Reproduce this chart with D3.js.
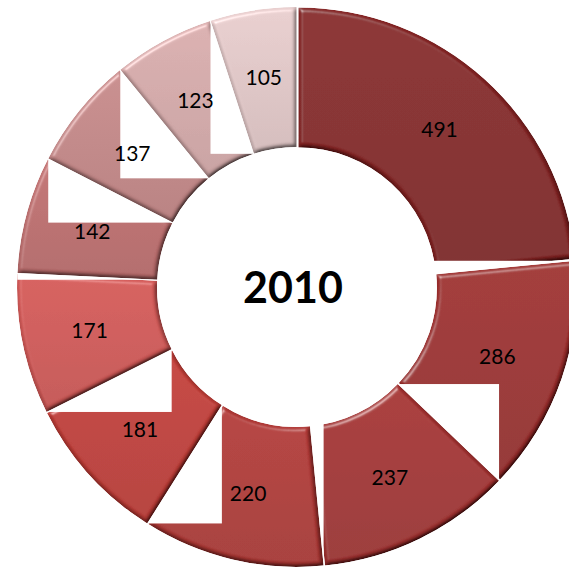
<!DOCTYPE html>
<html>
<head>
<meta charset="utf-8">
<script src="https://cdn.jsdelivr.net/npm/d3@7"></script>
<style>
  html, body { margin: 0; padding: 0; background: #fff; }
  svg { display: block; }
</style>
</head>
<body>
<svg id="chart" width="569" height="574"></svg>
<script>
// ---- data ----
const categories = ["A", "B", "C", "D", "E", "F", "G", "H", "I", "J"];
const values = [491, 286, 237, 220, 181, 171, 142, 137, 123, 105];
const centerLabel = "2010";
const palette = ["#832424", "#9a2e2d", "#a13231", "#ad3936", "#bd3d38", "#cd5856", "#ba6d6d", "#c08686", "#d1a8a8", "#dec5c5"];

// ---- layout ----
const W = 569, H = 574;
const cx = 297, cy = 287;
const outerR = 278, innerR = 138;
const explode = 2;

const svg = d3.select("#chart");
const defs = svg.append("defs");

// bevel filter
const f = defs.append("filter").attr("id", "bevel")
  .attr("x", "-5%").attr("y", "-5%").attr("width", "110%").attr("height", "110%");
f.append("feGaussianBlur").attr("in", "SourceAlpha").attr("stdDeviation", 2.2).attr("result", "blur");
const spec = f.append("feSpecularLighting").attr("in", "blur")
  .attr("surfaceScale", 4).attr("specularConstant", 0.9).attr("specularExponent", 22)
  .attr("lighting-color", "#ffffff").attr("result", "spec");
spec.append("feDistantLight").attr("azimuth", 235).attr("elevation", 32);
f.append("feComposite").attr("in", "spec").attr("in2", "SourceAlpha").attr("operator", "in").attr("result", "specOut");
const diff = f.append("feDiffuseLighting").attr("in", "blur")
  .attr("surfaceScale", 4).attr("diffuseConstant", 1.15)
  .attr("lighting-color", "#ffffff").attr("result", "diff");
diff.append("feDistantLight").attr("azimuth", 235).attr("elevation", 60);
f.append("feComposite").attr("in", "SourceGraphic").attr("in2", "diff")
  .attr("operator", "arithmetic").attr("k1", 1).attr("k2", 0).attr("k3", 0).attr("k4", 0).attr("result", "lit");
f.append("feComposite").attr("in", "lit").attr("in2", "specOut")
  .attr("operator", "arithmetic").attr("k1", 0).attr("k2", 1).attr("k3", 0.4).attr("k4", 0).attr("result", "sum");
f.append("feComposite").attr("in", "sum").attr("in2", "SourceAlpha").attr("operator", "in");

// gradients
palette.forEach((c, i) => {
  const g = defs.append("linearGradient").attr("id", "grad" + i)
    .attr("x1", 0).attr("y1", 0).attr("x2", 0).attr("y2", 1);
  g.append("stop").attr("offset", "0%").attr("stop-color", d3.color(c).brighter(0.12));
  g.append("stop").attr("offset", "100%").attr("stop-color", d3.color(c).darker(0.14));
});

const pie = d3.pie().sort(null).value(d => d);
const arcs = pie(values);
const arc = d3.arc().innerRadius(innerR).outerRadius(outerR);
const labelArc = d3.arc().innerRadius(212).outerRadius(212);

const root = svg.append("g").attr("transform", `translate(${cx},${cy})`);

arcs.forEach((a, i) => {
  const mid = (a.startAngle + a.endAngle) / 2;
  const dx = Math.sin(mid) * explode, dy = -Math.cos(mid) * explode;
  const g = root.append("g").attr("transform", `translate(${dx},${dy})`);
  // white background box of the slice (as in the original rendering)
  const p = g.append("path").attr("d", arc(a));
  const bb = p.node().getBBox();
  g.insert("rect", "path")
    .attr("x", bb.x).attr("y", bb.y)
    .attr("width", bb.width).attr("height", bb.height)
    .attr("fill", "#ffffff");
  p.attr("fill", `url(#grad${i})`).attr("filter", "url(#bevel)");
});

// value labels
root.selectAll("text.val")
  .data(arcs)
  .join("text")
  .attr("class", "val")
  .attr("transform", d => `translate(${labelArc.centroid(d)})`)
  .attr("text-anchor", "middle")
  .attr("dy", "0.35em")
  .style("font-family", "Lato, 'Open Sans', sans-serif")
  .style("font-size", "21px")
  .style("fill", "#000")
  .text(d => d.data);

// center label
svg.append("text")
  .attr("x", 293).attr("y", 288)
  .attr("text-anchor", "middle")
  .attr("dy", "0.36em")
  .style("font-family", "Lato, 'Open Sans', sans-serif")
  .style("font-weight", "bold")
  .style("font-size", "43px")
  .style("fill", "#000")
  .text(centerLabel);
</script>
</body>
</html>
